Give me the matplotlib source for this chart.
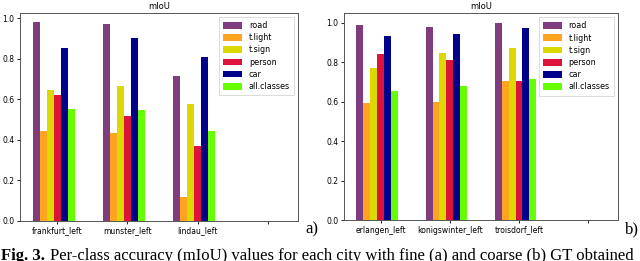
import numpy as np
import matplotlib
matplotlib.use('Agg')
from matplotlib import pyplot as plt

classes = ['road', 't.light', 't.sign', 'person', 'car', 'all.classes']
colors = ['#7f3d7f', '#ffa420', '#dcd800', '#dc143c', '#00008b', '#66ff00']

# fine GT (a)
cities_a = ['frankfurt_left', 'munster_left', 'lindau_left', '']
road_a = [0.980, 0.975, 0.717, 0]
tlight_a = [0.446, 0.435, 0.116, 0]
tsign_a = [0.645, 0.666, 0.577, 0]
person_a = [0.623, 0.519, 0.369, 0]
car_a = [0.853, 0.904, 0.810, 0]
all_a = [0.554, 0.547, 0.445, 0]

# coarse GT (b)
cities_b = ['erlangen_left', 'konigswinter_left', 'troisdorf_left', '']
road_b = [0.988, 0.980, 0.997, 0]
tlight_b = [0.595, 0.600, 0.705, 0]
tsign_b = [0.772, 0.845, 0.873, 0]
person_b = [0.840, 0.811, 0.705, 0]
car_b = [0.931, 0.944, 0.976, 0]
all_b = [0.655, 0.681, 0.713, 0]

def draw(ax, cities, series, ytop):
	x = np.arange(len(cities))
	w = 0.1
	for k, vals in enumerate(series):
		ax.bar(x + (k - 3) * w, vals, w, color=colors[k], label=classes[k], linewidth=0)
	ax.set_xticks(x)
	ax.set_xticklabels(cities)
	ax.set_xlim(-0.53, 3.43)
	ax.set_ylim(0, ytop)
	ax.set_yticks([0, 0.2, 0.4, 0.6, 0.8, 1.0])
	ax.set_title('mIoU', fontsize=6, pad=3)
	ax.tick_params(labelsize=5.5, length=2, width=0.6, pad=2)
	for s in ax.spines.values():
		s.set_linewidth(0.7)
		s.set_color('#555555')
	leg = ax.legend(loc='upper right', fontsize=5.8, handlelength=2.4, handleheight=0.9,
		labelspacing=0.4, borderpad=0.5, fancybox=False, edgecolor='#cccccc')
	leg.get_frame().set_linewidth(0.6)

fig = plt.figure(figsize=(6.4, 2.61), dpi=100)
ax1 = fig.add_axes([0.03125, 0.1533, 0.4344, 0.797])
ax2 = fig.add_axes([0.5375, 0.157, 0.428, 0.792])

draw(ax1, cities_a, [road_a, tlight_a, tsign_a, person_a, car_a, all_a], 1.027)
draw(ax2, cities_b, [road_b, tlight_b, tsign_b, person_b, car_b, all_b], 1.048)

fig.text(0.477, 0.105, 'a)', fontsize=12, family='Liberation Serif')
fig.text(0.976, 0.105, 'b)', fontsize=12, family='Liberation Serif')

# caption, cut off at the bottom like in the paper screenshot
cap_y = 1 - 260 / 261
t1 = fig.text(0.002, cap_y, 'Fig. 3.', fontsize=12, family='Liberation Serif',
	fontweight='bold', va='baseline')
fig.canvas.draw()
bb = t1.get_window_extent(renderer=fig.canvas.get_renderer())
fig.text(bb.x1 / fig.bbox.width + 0.008, cap_y,
	'Per-class accuracy (mIoU) values for each city with fine (a) and coarse (b) GT obtained',
	fontsize=12, family='Liberation Serif', va='baseline')

fig.savefig('out.png', dpi=100)
